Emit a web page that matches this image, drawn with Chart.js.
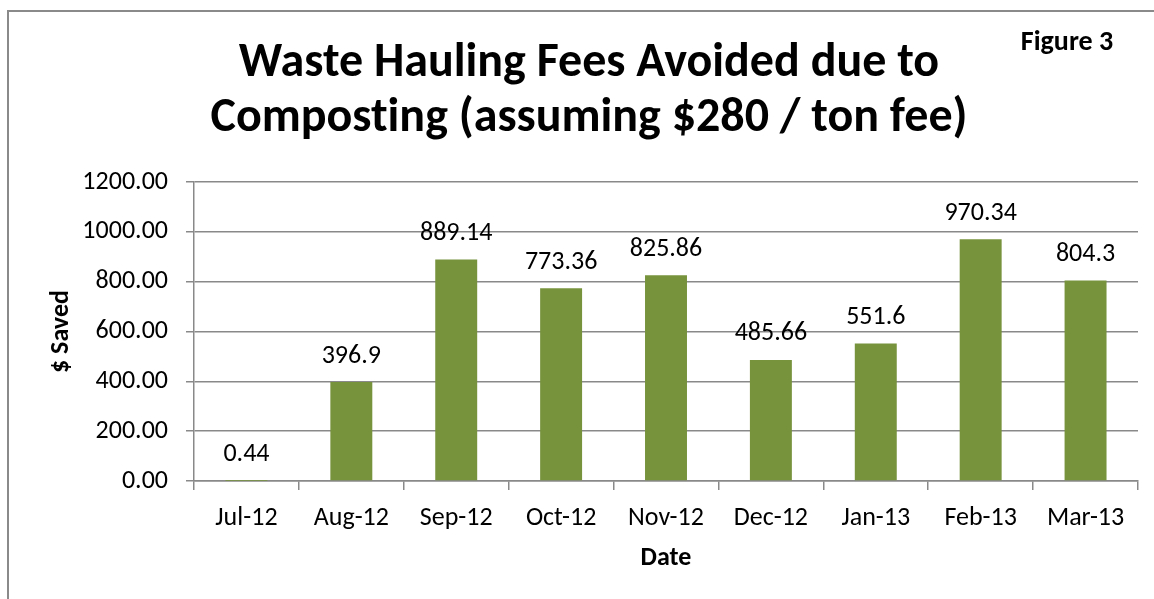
<!DOCTYPE html>
<html>
<head>
<meta charset="utf-8">
<script src="https://cdn.jsdelivr.net/npm/chart.js@4.4.1/dist/chart.umd.min.js"></script>
<style>
html, body { margin: 0; padding: 0; background: #ffffff; }
#wrap { width: 1154px; height: 599px; position: relative; }
</style>
</head>
<body>
<div id="wrap"><canvas id="c" width="1154" height="599"></canvas></div>
<script>
const categories = ["Jul-12", "Aug-12", "Sep-12", "Oct-12", "Nov-12", "Dec-12", "Jan-13", "Feb-13", "Mar-13"];
const savedValues = [0.44, 396.9, 889.14, 773.36, 825.86, 485.66, 551.6, 970.34, 804.3];
const titleLines = ["Waste Hauling Fees Avoided due to", "Composting (assuming $280 / ton fee)"];
const figureLabel = "Figure 3";
const yAxisTitle = "$ Saved";
const xAxisTitle = "Date";

const FONT = "Carlito, Lato, 'Open Sans', sans-serif";
const GRID = "#898989";

const decorPlugin = {
  id: "decor",
  afterDraw(chart) {
    const ctx = chart.ctx;
    ctx.save();
    // outer frame
    ctx.strokeStyle = "#8a8a8a";
    ctx.lineWidth = 2;
    ctx.beginPath();
    ctx.moveTo(8, 600);
    ctx.lineTo(8, 11);
    ctx.lineTo(1160, 11);
    ctx.stroke();
    // title
    ctx.fillStyle = "#000000";
    ctx.textAlign = "center";
    ctx.textBaseline = "alphabetic";
    if ("textRendering" in ctx) ctx.textRendering = "optimizeSpeed";
    ctx.font = "bold 48px " + FONT;
    ctx.fillText(titleLines[0], 589, 76);
    ctx.fillText(titleLines[1], 589, 131);
    // figure label
    ctx.font = "bold 28px " + FONT;
    ctx.fillText(figureLabel, 1067, 50);
    ctx.restore();
  },
  afterDatasetsDraw(chart) {
    const ctx = chart.ctx;
    const meta = chart.getDatasetMeta(0);
    ctx.save();
    ctx.fillStyle = "#000000";
    ctx.font = "26px " + FONT;
    ctx.textAlign = "center";
    ctx.textBaseline = "middle";
    meta.data.forEach((bar, i) => {
      ctx.fillText(String(chart.data.datasets[0].data[i]), bar.x, bar.y - 26);
    });
    ctx.restore();
  }
};

new Chart(document.getElementById("c"), {
  type: "bar",
  data: {
    labels: categories,
    datasets: [{
      label: yAxisTitle,
      data: savedValues,
      backgroundColor: "#77933C",
      borderWidth: 0,
      barPercentage: 0.4,
      categoryPercentage: 1.0
    }]
  },
  options: {
    responsive: false,
    animation: false,
    layout: { padding: { top: 182, right: 16, bottom: 0, left: 0 } },
    plugins: {
      legend: { display: false },
      title: { display: false },
      tooltip: { enabled: false }
    },
    scales: {
      x: {
        grid: { display: true, drawOnChartArea: false, drawTicks: true, tickLength: 9, color: GRID, lineWidth: 1.5, offset: true },
        border: { display: true, color: GRID, width: 1.5 },
        ticks: { color: "#000000", font: { family: FONT, size: 26 }, padding: 13, maxRotation: 0, autoSkip: false },
        title: { display: true, text: xAxisTitle, color: "#000000", font: { family: FONT, size: 26, weight: "bold" }, padding: { top: 0, bottom: 25 } },
        afterFit(scale) { scale.height = 118; }
      },
      y: {
        min: 0,
        max: 1200,
        grid: { display: true, drawOnChartArea: true, drawTicks: true, tickLength: 8, color: GRID, lineWidth: 1.5 },
        border: { display: true, color: GRID, width: 1.5 },
        ticks: { stepSize: 200, color: "#000000", font: { family: FONT, size: 26 }, padding: 18, callback: (v) => Number(v).toFixed(2) },
        title: { display: true, text: yAxisTitle, color: "#000000", font: { family: FONT, size: 26, weight: "bold" }, padding: { top: 46, bottom: 0 } },
        afterFit(scale) { scale.width = 194; }
      }
    }
  },
  plugins: [decorPlugin]
});
</script>
</body>
</html>
